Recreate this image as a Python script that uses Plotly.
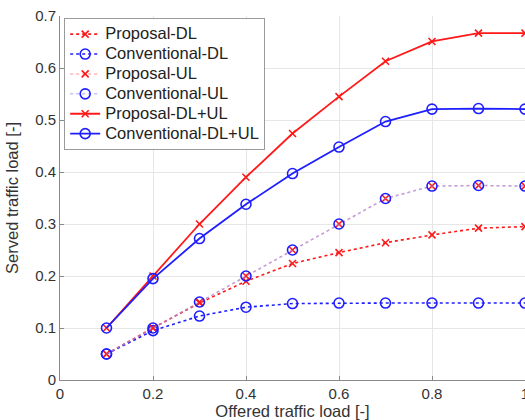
import plotly.graph_objects as go

# Offered traffic load (x) and served traffic load per scheme (y)
offered = [0.1, 0.2, 0.3, 0.4, 0.5, 0.6, 0.7, 0.8, 0.9, 1.0]
proposal_dl = [0.05, 0.10, 0.148, 0.19, 0.224, 0.245, 0.264, 0.279, 0.292, 0.295]
conventional_dl = [0.05, 0.095, 0.123, 0.14, 0.147, 0.148, 0.148, 0.148, 0.148, 0.148]
proposal_ul = [0.05, 0.10, 0.15, 0.20, 0.25, 0.30, 0.349, 0.373, 0.374, 0.373]
conventional_ul = [0.05, 0.10, 0.15, 0.20, 0.25, 0.30, 0.349, 0.373, 0.374, 0.373]
proposal_dlul = [0.10, 0.20, 0.30, 0.39, 0.474, 0.545, 0.613, 0.651, 0.667, 0.667]
conventional_dlul = [0.10, 0.195, 0.272, 0.338, 0.397, 0.448, 0.497, 0.521, 0.522, 0.521]

x_ticks = [0, 0.2, 0.4, 0.6, 0.8, 1]
x_tick_text = ["0", "0.2", "0.4", "0.6", "0.8", "1"]
y_ticks = [0, 0.1, 0.2, 0.3, 0.4, 0.5, 0.6, 0.7]
y_tick_text = ["0", "0.1", "0.2", "0.3", "0.4", "0.5", "0.6", "0.7"]

RED = "rgb(255,25,25)"
BLUE = "rgb(30,30,255)"
LIGHT_RED = "rgba(255,120,120,0.55)"
LIGHT_BLUE = "rgba(140,140,255,0.55)"

x_marker = dict(symbol="x-thin-open", size=7, line=dict(width=1.6))
o_marker = dict(symbol="circle-open", size=10, line=dict(width=1.6))

series = [
    ("Proposal-DL", proposal_dl, RED, RED, "dot", 1.6, x_marker),
    ("Conventional-DL", conventional_dl, BLUE, BLUE, "dot", 1.6, o_marker),
    ("Proposal-UL", proposal_ul, LIGHT_RED, RED, "dot", 1.5, x_marker),
    ("Conventional-UL", conventional_ul, LIGHT_BLUE, BLUE, "dot", 1.5, o_marker),
    ("Proposal-DL+UL", proposal_dlul, RED, RED, "solid", 1.8, x_marker),
    ("Conventional-DL+UL", conventional_dlul, BLUE, BLUE, "solid", 1.8, o_marker),
]


def legend_label(text):
    # larger glyphs inside a compact legend row
    return "<span style='font-size:16.5px'>%s</span>" % text


fig = go.Figure()
for name, ys, line_color, mark_color, dash, width, mk in series:
    marker = dict(mk)
    marker["color"] = mark_color
    marker["line"] = dict(mk["line"], color=mark_color)
    fig.add_trace(go.Scatter(
        x=offered, y=ys, name=legend_label(name), mode="lines+markers",
        line=dict(color=line_color, dash=dash, width=width),
        marker=marker,
    ))

tick_font = dict(family="Liberation Sans, Arial, sans-serif", size=15, color="#333333")
title_font = dict(family="Liberation Sans, Arial, sans-serif", size=16.5, color="#333333")

fig.update_layout(
    width=525, height=420,
    margin=dict(l=60, r=0, t=16, b=40, autoexpand=False),
    paper_bgcolor="white", plot_bgcolor="white",
    font=dict(family="Liberation Sans, Arial, sans-serif", size=15, color="#222222"),
    showlegend=True,
    legend=dict(
        x=0.009, y=0.994, xanchor="left", yanchor="top",
        bgcolor="white", bordercolor="#9a9a9a", borderwidth=1,
        font=dict(size=13, color="#222222"),
        tracegroupgap=0, itemwidth=30,
    ),
    xaxis=dict(
        range=[0, 1], tickvals=x_ticks, ticktext=x_tick_text,
        showgrid=True, gridcolor="#e6e6e6", gridwidth=1,
        zeroline=False, showline=True, linecolor="#8a8a8a", linewidth=1,
        ticks="inside", ticklen=4, tickcolor="#8a8a8a",
        tickfont=tick_font, automargin=False, ticklabeloverflow="allow",
        title=dict(text="Offered traffic load [-]", font=title_font, standoff=5),
    ),
    yaxis=dict(
        range=[0, 0.7], tickvals=y_ticks, ticktext=y_tick_text,
        showgrid=True, gridcolor="#e6e6e6", gridwidth=1,
        zeroline=False, showline=True, linecolor="#8a8a8a", linewidth=1,
        ticks="inside", ticklen=4, tickcolor="#8a8a8a",
        tickfont=tick_font, automargin=False, ticklabeloverflow="allow",
        title=dict(text="Served traffic load [-]", font=title_font, standoff=12),
    ),
)

fig.write_html("out.html")
